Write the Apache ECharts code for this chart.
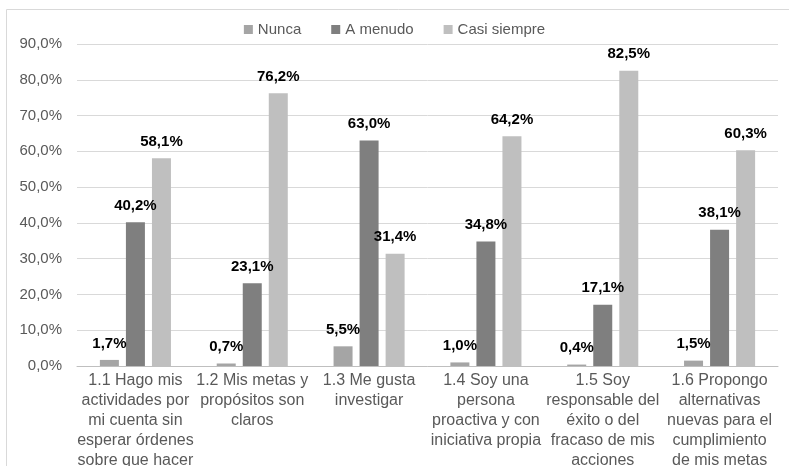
<!DOCTYPE html>
<html>
<head>
<meta charset="utf-8">
<script src="https://cdn.jsdelivr.net/npm/echarts@6/dist/echarts.min.js"></script>
<style>
  html, body { margin: 0; padding: 0; background: #fff; }
  #chart { width: 789px; height: 466px; }
</style>
</head>
<body>
<div id="chart"></div>
<script>
const categories = [
  '1.1 Hago mis\nactividades por\nmi cuenta sin\nesperar órdenes\nsobre que hacer',
  '1.2 Mis metas y\npropósitos son\nclaros',
  '1.3 Me gusta\ninvestigar',
  '1.4 Soy una\npersona\nproactiva y con\niniciativa propia',
  '1.5 Soy\nresponsable del\néxito o del\nfracaso de mis\nacciones',
  '1.6 Propongo\nalternativas\nnuevas para el\ncumplimiento\nde mis metas'
]
const nunca = [1.7, 0.7, 5.5, 1.0, 0.4, 1.5]
const aMenudo = [40.2, 23.1, 63.0, 34.8, 17.1, 38.1]
const casiSiempre = [58.1, 76.2, 31.4, 64.2, 82.5, 60.3]

const font = '"Liberation Sans", Arial, sans-serif'
const pct = v => v.toFixed(1).replace('.', ',') + '%'

function bar(name, data, color) {
  return {
    name,
    type: 'bar',
    data,
    barWidth: 19,
    barGap: '37%',
    itemStyle: { color },
    label: {
      show: true,
      position: 'top',
      distance: 9,
      color: '#000',
      fontWeight: 'bold',
      fontSize: 15,
      fontFamily: font,
      formatter: p => pct(p.value),
    },
  }
}

const chart = echarts.init(document.getElementById('chart'), null, { renderer: 'canvas' })
chart.setOption({
  animation: false,
  textStyle: { fontFamily: font, color: '#595959' },
  graphic: [{
    type: 'rect',
    shape: { x: 6.5, y: 9.5, width: 790, height: 470 },
    style: { fill: 'none', stroke: '#d9d9d9', lineWidth: 1 },
  }],
  legend: {
    top: 17,
    left: 'center',
    itemWidth: 9,
    itemHeight: 9,
    itemGap: 30,
    icon: 'rect',
    textStyle: { color: '#595959', fontSize: 15, fontFamily: font },
    data: ['Nunca', 'A menudo', 'Casi siempre'],
  },
  grid: { left: 77, right: 11, top: 44, bottom: 100, outerBoundsMode: 'none', containLabel: false },
  xAxis: {
    type: 'category',
    data: categories,
    axisLine: { lineStyle: { color: '#bfbfbf' } },
    axisTick: { show: false },
    axisLabel: {
      interval: 0,
      color: '#595959',
      fontSize: 16,
      lineHeight: 20,
      margin: 5,
      fontFamily: font,
    },
  },
  yAxis: {
    type: 'value',
    min: 0,
    max: 90,
    interval: 10,
    axisLine: { show: false },
    axisTick: { show: false },
    axisLabel: { color: '#595959', fontSize: 15, margin: 15, fontFamily: font, formatter: v => pct(v) },
    splitLine: { lineStyle: { color: '#d9d9d9', width: 1 } },
  },
  series: [
    bar('Nunca', nunca, '#a5a5a5'),
    bar('A menudo', aMenudo, '#7f7f7f'),
    bar('Casi siempre', casiSiempre, '#bfbfbf'),
  ],
})
</script>
</body>
</html>
